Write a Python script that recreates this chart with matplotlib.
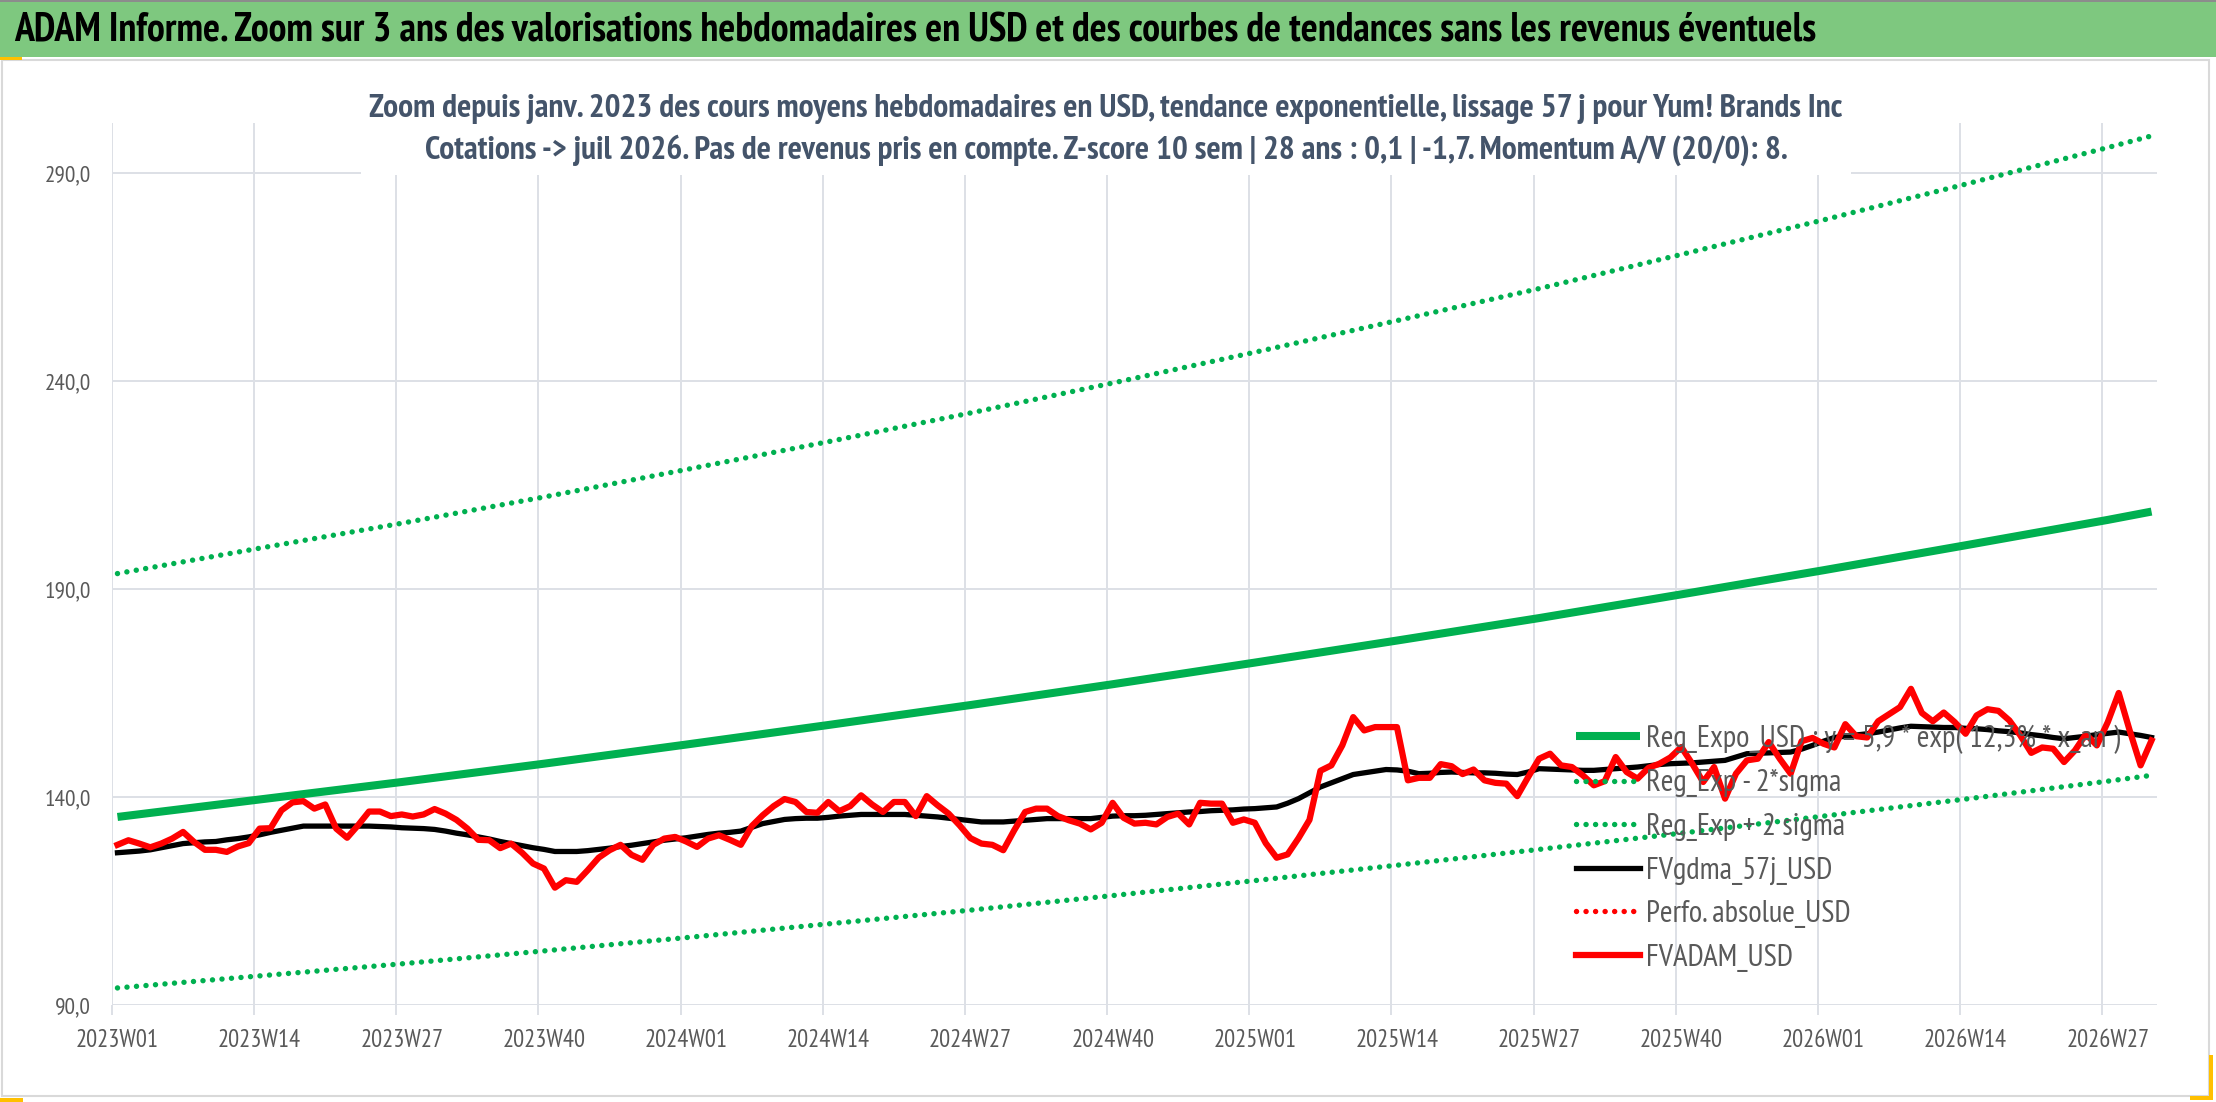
"""
ADAM Informe - Yum! Brands Inc, zoom 3 ans, valorisations hebdomadaires en USD
"""
import matplotlib
matplotlib.use("Agg")
import matplotlib.pyplot as plt
from matplotlib.patches import Rectangle

W, H = 2216, 1102
FONT = ["PT Sans Narrow", "Carlito", "DejaVu Sans"]

plt.rcParams["font.family"] = FONT

# categories: ISO weeks 2023W01 .. 2026W31
weeks_per_year = {2023: 52, 2024: 52, 2025: 52, 2026: 31}
weeks = [f"{y}W{w:02d}" for y, n in weeks_per_year.items() for w in range(1, n + 1)]

# FVADAM_USD (weekly average price)
fvadam_usd = [
    128.5, 129.6, 128.8, 127.9, 128.8, 130.0, 131.6, 129.2, 127.3, 127.3,
    126.8, 128.1, 128.9, 132.4, 132.5, 136.8, 138.7, 139.0, 137.2, 138.2,
    132.4, 130.2, 133.2, 136.5, 136.5, 135.4, 135.8, 135.3, 135.8, 137.1,
    136.0, 134.5, 132.4, 129.7, 129.6, 127.7, 128.8, 126.6, 124.0, 122.8,
    118.2, 120.0, 119.6, 122.4, 125.4, 127.2, 128.5, 126.1, 124.9, 128.5,
    130.0, 130.4, 129.3, 128.0, 130.0, 130.8, 129.7, 128.5, 133.0, 135.6,
    137.8, 139.5, 138.8, 136.4, 136.2, 138.8, 136.6, 137.8, 140.4, 138.2,
    136.4, 138.8, 138.8, 135.4, 140.2, 138.0, 136.0, 133.2, 130.1, 128.8,
    128.5, 127.2, 132.0, 136.4, 137.2, 137.2, 135.4, 134.4, 133.6, 132.2,
    133.8, 138.6, 135.0, 133.6, 133.8, 133.4, 135.2, 136.0, 133.4, 138.6,
    138.4, 138.4, 133.8, 134.6, 133.8, 128.9, 125.4, 126.2, 130.1, 134.5,
    146.3, 147.6, 152.4, 159.2, 156.0, 156.8, 156.8, 156.8, 144.0, 144.6,
    144.6, 147.9, 147.4, 145.5, 146.6, 144.0, 143.4, 143.2, 140.2, 144.8,
    149.2, 150.4, 147.6, 147.2, 145.2, 142.8, 143.8, 149.6, 146.0, 144.4,
    147.0, 148.0, 149.5, 152.0, 148.0, 143.6, 147.2, 139.6, 145.6, 148.8,
    149.2, 153.2, 149.2, 145.6, 153.4, 154.2, 152.8, 151.9, 157.5, 154.6,
    154.3, 158.2, 159.9, 161.6, 166.0, 160.2, 158.2, 160.3, 158.0, 155.2,
    159.6, 161.1, 160.7, 158.4, 154.8, 150.6, 151.9, 151.6, 148.4, 151.2,
    155.1, 152.4, 158.0, 165.0, 156.0, 147.6, 153.6,
]

# FVgdma_57j_USD (smoothed)
fvgdma_57j_usd = [
    126.6, 126.8, 127.0, 127.3, 127.8, 128.3, 128.8, 129.0, 129.2, 129.3,
    129.7, 130.0, 130.4, 130.9, 131.5, 132.0, 132.5, 133.0, 133.0, 133.0,
    133.0, 133.0, 133.0, 133.0, 132.9, 132.8, 132.6, 132.5, 132.4, 132.2,
    131.8, 131.3, 130.9, 130.4, 129.9, 129.3, 128.8, 128.3, 127.8, 127.4,
    126.9, 126.9, 126.9, 127.1, 127.4, 127.7, 128.1, 128.4, 128.8, 129.2,
    129.6, 129.9, 130.2, 130.6, 131.0, 131.3, 131.5, 131.8, 132.7, 133.6,
    134.1, 134.6, 134.8, 134.9, 134.9, 135.1, 135.4, 135.6, 135.8, 135.8,
    135.8, 135.8, 135.8, 135.6, 135.4, 135.2, 134.9, 134.6, 134.3, 134.0,
    134.0, 134.0, 134.2, 134.4, 134.6, 134.8, 134.8, 134.8, 134.8, 134.8,
    135.1, 135.4, 135.5, 135.5, 135.6, 135.8, 136.0, 136.2, 136.4, 136.5,
    136.7, 136.8, 136.9, 137.1, 137.2, 137.4, 137.6, 138.5, 139.6, 141.0,
    142.4, 143.4, 144.4, 145.4, 145.8, 146.2, 146.6, 146.5, 146.2, 145.6,
    145.7, 145.9, 146.0, 145.9, 145.8, 145.8, 145.7, 145.5, 145.4, 146.0,
    146.8, 146.7, 146.6, 146.5, 146.4, 146.4, 146.6, 146.8, 147.0, 147.2,
    147.5, 147.8, 148.0, 148.1, 148.2, 148.4, 148.6, 148.8, 149.6, 150.4,
    150.5, 150.6, 150.7, 150.8, 151.5, 152.4, 153.4, 154.3, 154.6, 154.9,
    155.2, 155.6, 156.1, 156.6, 157.0, 156.9, 156.8, 156.7, 156.7, 156.5,
    156.4, 156.2, 155.9, 155.7, 155.4, 155.0, 154.7, 154.3, 154.0, 154.3,
    154.6, 155.0, 155.3, 155.6, 155.2, 154.8, 154.3,
]

# exponential regression and +/- 2 sigma bands, read at the labelled weeks
trend_weeks = [
    "2023W01", "2023W14", "2023W27", "2023W40", "2024W01", "2024W14",
    "2024W27", "2024W40", "2025W01", "2025W14", "2025W27", "2025W40",
    "2026W01", "2026W14", "2026W27", "2026W31",
]
reg_expo = [135.2, 139.4, 143.6, 148.0, 152.6, 157.3, 162.1, 167.1,
            172.3, 177.6, 183.0, 188.7, 194.5, 200.5, 206.6, 208.6]
reg_minus = [94.1, 97.0, 99.9, 103.0, 106.2, 109.5, 112.8, 116.3,
             119.9, 123.6, 127.4, 131.3, 135.4, 139.5, 143.8, 145.2]
reg_plus = [193.7, 199.8, 205.8, 212.1, 218.7, 225.4, 232.3, 239.5,
            246.9, 254.5, 262.2, 270.4, 278.7, 287.3, 296.1, 298.9]

y_ticks = [90, 140, 190, 240, 290]

title = ("ADAM Informe. Zoom sur 3 ans des valorisations hebdomadaires en USD "
         "et des courbes de tendances sans les revenus éventuels")
subtitle = ["Zoom depuis janv. 2023 des cours moyens hebdomadaires en USD, tendance "
            "exponentielle, lissage 57 j pour Yum! Brands Inc",
            "Cotations -> juil 2026. Pas de revenus pris en compte. Z-score 10 sem | "
            "28 ans : 0,1 | -1,7. Momentum A/V (20/0): 8."]
labels = [
    "Reg_Expo_USD : y = 5,9 * exp( 12,3% * x_an )",
    "Reg_Exp - 2*sigma",
    "Reg_Exp + 2 sigma",
    "FVgdma_57j_USD",
    "Perfo. absolue_USD",
    "FVADAM_USD",
]

GREEN = "#00B050"
RED = "#FF0000"
GRID = "#DDE0E6"
TXT = "#595959"
SUB = "#44546A"

assert len(fvadam_usd) == len(weeks) == len(fvgdma_57j_usd)

fig = plt.figure(figsize=(W / 100, H / 100), dpi=100)
renderer = fig.canvas.get_renderer()


def fit_size(text: str, width_px: float, weight: str = "normal") -> float:
    # font size (pt) that makes the text as wide as in the picture
    t = fig.text(0, 0, text, fontsize=20, fontweight=weight)
    w = t.get_window_extent(renderer).width
    t.remove()
    return 20 * width_px / w


def text_height(text: str, size: float, weight: str = "normal", ls: float = 1.2) -> float:
    t = fig.text(0, 0, text, fontsize=size, fontweight=weight, linespacing=ls)
    h = t.get_window_extent(renderer).height
    t.remove()
    return h


title_fs = fit_size(title, 1809, "bold")
sub_fs = fit_size(subtitle[0], 1472, "bold")
ytick_fs = fit_size("140,0", 46)
xtick_fs = fit_size("2023W01", 83)
leg_fs = fit_size("Reg_Expo_USD", 159)

# banner and chart frame
fig.patches.append(Rectangle((0, 1 - 57 / H), 1, 57 / H, transform=fig.transFigure,
                             facecolor="#7EC87F", edgecolor="none", zorder=0))
fig.patches.append(Rectangle((0, 1 - 2 / H), 1, 2 / H, transform=fig.transFigure,
                             facecolor="#8C8C8C", edgecolor="none", zorder=0))
fig.patches.append(Rectangle((2 / W, 1 - 1096 / H), 2207 / W, 1036 / H,
                             transform=fig.transFigure, facecolor="none",
                             edgecolor="#D9D9D9", lw=1.5, zorder=0))
for x0, y0, w, h in [(0, 57, 22, 3), (0, 1098, 23, 4), (2209, 1055, 4, 45), (2190, 1096, 23, 4)]:
    fig.patches.append(Rectangle((x0 / W, 1 - (y0 + h) / H), w / W, h / H,
                                 transform=fig.transFigure, facecolor="#FFC000",
                                 edgecolor="none", zorder=1))

fig.text(14 / W, 1 - 31 / H, title, fontsize=title_fs, fontweight="bold", color="black",
         ha="left", va="center")

ax = fig.add_axes([112 / W, 1 - 1005 / H, 2045 / W, 882 / H])
x = list(range(len(weeks)))
tx = [weeks.index(w) for w in trend_weeks]

dots = dict(linestyle=(0, (0.01, 1.75)), dash_capstyle="round", lw=3.9)
ax.plot(tx, reg_expo, color=GREEN, lw=5.8, solid_capstyle="butt", label=labels[0], zorder=3)
ax.plot(tx, reg_minus, color=GREEN, label=labels[1], zorder=3, **dots)
ax.plot(tx, reg_plus, color=GREEN, label=labels[2], zorder=3, **dots)
ax.plot(x, fvgdma_57j_usd, color="black", lw=3.8, label=labels[3], zorder=4)
ax.plot([], [], color=RED, label=labels[4], **dots)
ax.plot(x, fvadam_usd, color=RED, lw=4.5, label=labels[5], zorder=5)

ax.set_xlim(-0.5, len(weeks) - 0.5)
ax.set_ylim(90, 302)
ax.set_yticks(y_ticks)
ax.set_yticklabels([f"{v:.1f}".replace(".", ",") for v in y_ticks])
ax.set_xticks(x[::13])
ax.set_xticklabels(weeks[::13])
ax.set_xticks([i - 0.5 for i in x[::13]], minor=True)

for s in ax.spines.values():
    s.set_visible(False)
ax.grid(axis="y", which="major", color=GRID, lw=1.4)
ax.grid(axis="x", which="minor", color=GRID, lw=1.4)
ax.set_axisbelow(True)
ax.tick_params(axis="y", length=0, pad=15, labelsize=ytick_fs, labelcolor=TXT)
ax.tick_params(axis="x", which="major", length=0, pad=17, labelsize=xtick_fs, labelcolor=TXT)
ax.tick_params(axis="x", which="minor", length=7, width=1.4, color=GRID, direction="out")

# two-line subtitle, 42 px between the lines, white box hiding the gridline
h1 = text_height("Zg", sub_fs, "bold")
h2 = text_height("Zg\nZg", sub_fs, "bold")
sub_ls = 1.2 * 42 / (h2 - h1)
fig.text(1106 / W, 1 - 130 / H, "\n".join(subtitle), fontsize=sub_fs, fontweight="bold",
         color=SUB, ha="center", va="center", linespacing=sub_ls,
         bbox=dict(facecolor="white", edgecolor="none", pad=6))

# legend rows 43.8 px apart, first row centred at y = 739 px
leg_px = leg_fs * 100 / 72
row_h = text_height("FVgdma_57j_USD", leg_fs)
leg = ax.legend(loc="upper left", bbox_to_anchor=(1576 / W, 1 - (739 - row_h / 2) / H),
                bbox_transform=fig.transFigure, frameon=False, fontsize=leg_fs,
                handlelength=64 / leg_px, handletextpad=6 / leg_px,
                labelspacing=(43.8 - row_h) / leg_px, borderpad=0, borderaxespad=0)
for t in leg.get_texts():
    t.set_color(TXT)

fig.savefig("out.png", dpi=100)
